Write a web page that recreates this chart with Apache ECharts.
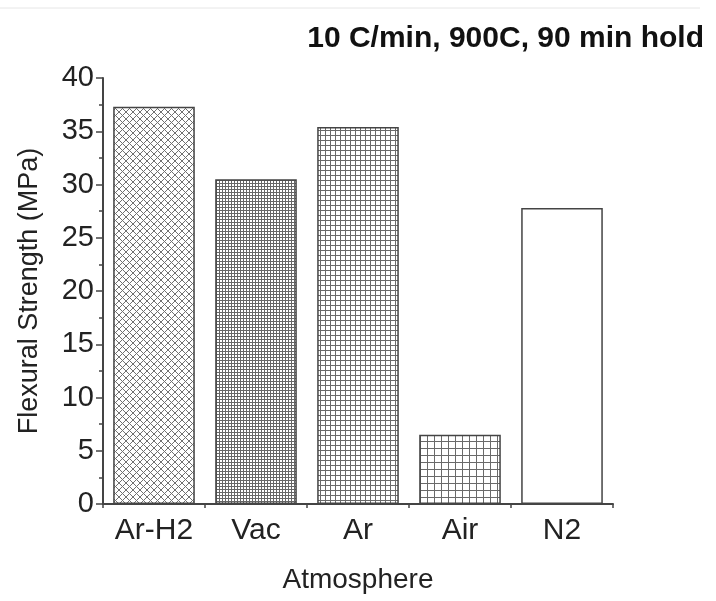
<!DOCTYPE html>
<html><head><meta charset="utf-8">
<script src="https://cdn.jsdelivr.net/npm/echarts@6/dist/echarts.min.js"></script>
<style>html,body{margin:0;padding:0;background:#fff}#c{width:716px;height:601px}</style>
</head><body><div id="c"></div>
<script>
const categories = ['Ar-H2', 'Vac', 'Ar', 'Air', 'N2'];
const strength = [37.3, 30.5, 35.4, 6.5, 27.8];
const yTicks = [0, 5, 10, 15, 20, 25, 30, 35, 40];

function pattern(kind) {
  const c = document.createElement('canvas');
  const ctx = c.getContext('2d');
  if (kind === 'diag') {
    const s = 7; c.width = s; c.height = s;
    ctx.fillStyle = '#fff'; ctx.fillRect(0, 0, s, s);
    ctx.strokeStyle = '#707070'; ctx.lineWidth = 1;
    ctx.beginPath();
    ctx.moveTo(0, 0); ctx.lineTo(s, s);
    ctx.moveTo(s, 0); ctx.lineTo(0, s);
    ctx.stroke();
  } else if (kind === 'none') {
    c.width = 2; c.height = 2; ctx.fillStyle = '#fff'; ctx.fillRect(0, 0, 2, 2);
  } else {
    const s = kind; c.width = s; c.height = s;
    ctx.fillStyle = '#fff'; ctx.fillRect(0, 0, s, s);
    ctx.fillStyle = s <= 3 ? '#666' : '#6a6a6a';
    ctx.fillRect(0, 0, s, 1); ctx.fillRect(0, 0, 1, s);
  }
  return { image: c, repeat: 'repeat' };
}
const fills = [pattern('diag'), pattern(3), pattern(5), pattern(7), pattern('none')];

const chart = echarts.init(document.getElementById('c'), null, { renderer: 'canvas' });
const font = 'Liberation Sans, Arial, sans-serif';
chart.setOption({
  animation: false,
  backgroundColor: '#fff',
  title: {
    text: '10 C/min, 900C, 90 min hold', right: 7, top: 19,
    textStyle: { fontFamily: font, fontWeight: 'bold', fontSize: 30, color: '#111' }
  },
  graphic: [{ type: 'line', shape: { x1: 0, y1: 8, x2: 700, y2: 8 }, style: { stroke: '#e6e6e6', lineWidth: 1 } }],
  grid: { left: 103, right: 103, top: 78, bottom: 97, containLabel: false, outerBoundsMode: 'none' },
  xAxis: [{
    type: 'category', data: categories, position: 'bottom',
    name: 'Atmosphere', nameLocation: 'middle', nameGap: 62,
    nameTextStyle: { fontFamily: font, fontSize: 28, color: '#222' },
    axisLine: { lineStyle: { color: '#444', width: 2 } },
    axisTick: { alignWithLabel: true, length: 7, lineStyle: { color: '#444', width: 1.5 } },
    axisLabel: { interval: 0, fontFamily: font, fontSize: 30, color: '#222', margin: 12, hideOverlap: false }
  }, {
    type: 'category', data: categories, position: 'bottom',
    axisLine: { show: false },
    axisTick: { show: true, interval: 0, length: 4, lineStyle: { color: '#444', width: 1.5 } },
    axisLabel: { show: false }
  }],
  yAxis: {
    type: 'value', min: 0, max: 40, interval: 5,
    name: 'Flexural Strength (MPa)', nameLocation: 'middle', nameGap: 60,
    nameTextStyle: { fontFamily: font, fontSize: 27, color: '#222' },
    axisLine: { show: true, lineStyle: { color: '#444', width: 2 } },
    axisTick: { show: true, length: 7, lineStyle: { color: '#444', width: 1.5 } },
    minorTick: { show: true, splitNumber: 2, length: 4, lineStyle: { color: '#444', width: 1.5 } },
    splitLine: { show: false },
    axisLabel: { fontFamily: font, fontSize: 29, color: '#222', margin: 9,
      formatter: v => yTicks.includes(v) ? String(v) : '' }
  },
  series: [{
    type: 'bar', xAxisIndex: 0, barWidth: '80%',
    data: strength.map((v, i) => ({ value: v, itemStyle: { color: fills[i] } })),
    itemStyle: { borderColor: '#444', borderWidth: 1.5 }
  }]
});
</script></body></html>
